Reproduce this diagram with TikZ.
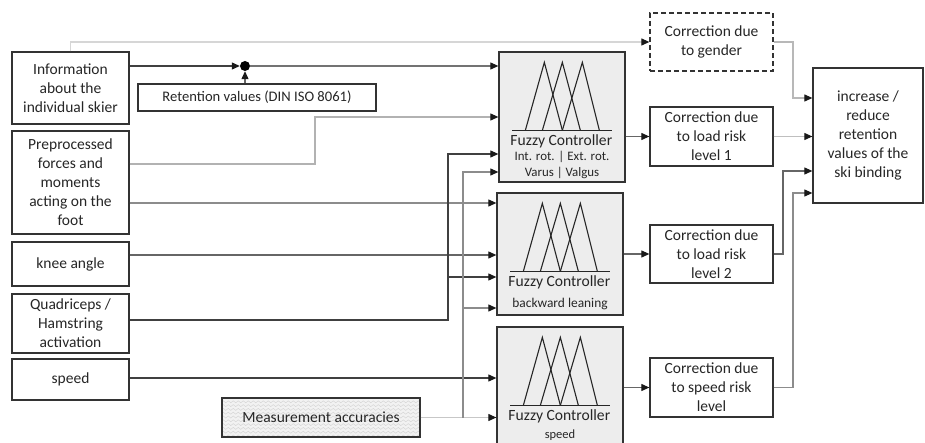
\documentclass[tikz,border=0pt]{standalone}
\usepackage{fontspec}
\setmainfont{Carlito}
\usetikzlibrary{arrows.meta,calc,decorations.pathmorphing}

% three overlapping membership triangles, a base line and the title
\newcommand\fuzzyset[2]{%
  \draw[tri] ($(#1.north west)+(27,79)$) -- ($(#1.north west)+(46,11)$) -- ($(#1.north west)+(64,79)$);
  \draw[tri] ($(#1.north west)+(44,79)$) -- ($(#1.north west)+(64,11)$) -- ($(#1.north west)+(82,79)$);
  \draw[tri] ($(#1.north west)+(64,79)$) -- ($(#1.north west)+(84,11)$) -- ($(#1.north west)+(101,79)$);
  \draw[tri] ($(#1.north west)+(14,79)$) -- ($(#1.north west)+(114,79)$);
  \node[fctitle] (#2) at ($(#1.north west)+(63,89.5)$) {Fuzzy Controller};
}

\begin{document}
\begin{tikzpicture}[x=1pt, y=-1pt,
  every node/.style={text=black!85},
  box/.style={draw=black!80, line width=1.3pt, fill=white, align=center,
    inner sep=0pt, font=\fontsize{15.5}{19}\selectfont},
  fcbox/.style={draw=black!80, line width=1.3pt, fill=black!7, inner sep=0pt,
    minimum width=126pt},
  tri/.style={draw=black!85, line width=1.1pt},
  fctitle/.style={inner sep=0pt, font=\fontsize{15.6}{17}\selectfont},
  fcsub/.style={inner sep=0pt, align=center},
  wire/.style={line width=1.1pt, -{Triangle[length=8pt,width=7pt,color=black!90]}},
]
\useasboundingbox (0,0) rectangle (925,443);

% ---- inputs on the left
\node[box, minimum width=117pt, minimum height=72pt] (info) at (70.5,88)
  {Information\\about the\\individual skier};
\node[box, minimum width=117pt, minimum height=103pt] (pre) at (70.5,182.5)
  {Preprocessed\\forces and\\moments\\acting on the\\foot};
\node[box, minimum width=117pt, minimum height=44pt] (knee) at (70.5,264) {knee angle};
\node[box, minimum width=117pt, minimum height=59pt] (quad) at (70.5,323.5)
  {Quadriceps /\\Hamstring\\activation};
\node[box, minimum width=117pt, minimum height=41pt] (speedin) at (70.5,379.5) {speed};

\node[box, minimum width=238pt, minimum height=27pt, font=\fontsize{14.6}{17}\selectfont]
  (ret) at (257,97.5) {Retention values (DIN ISO 8061)};

\node[box, minimum width=198pt, minimum height=39pt, fill=black!5,
  path picture={
    \foreach \k in {1,...,10}
      \draw[black!18, line width=0.4pt, decorate,
            decoration={zigzag, segment length=5pt, amplitude=1pt}]
        ($(path picture bounding box.north west)+(0,\k*3.8)$) --
        ($(path picture bounding box.north east)+(0,\k*3.8)$);
  }] (meas) at (321,417.5) {Measurement accuracies};

\node[circle, fill=black, inner sep=0pt, minimum size=10pt] (sum) at (245,66) {};

% ---- fuzzy controllers
\node[fcbox, minimum height=130pt] (fc1) at (562,117) {};
\node[fcbox, minimum height=122pt] (fc2) at (560,254) {};
\node[fcbox, minimum height=124pt] (fc3) at (560,389) {};
\fuzzyset{fc1}{fc1t}
\fuzzyset{fc2}{fc2t}
\fuzzyset{fc3}{fc3t}
\node[fcsub, font=\fontsize{12.9}{16}\selectfont] (fc1s) at (562,165)
  {Int. rot. | Ext. rot.\\Varus | Valgus};
\node[fcsub, font=\fontsize{13.4}{15}\selectfont] (fc2s) at (560,304) {backward leaning};
\node[fcsub, font=\fontsize{12.5}{14}\selectfont] (fc3s) at (560,435) {speed};

% ---- corrections and result
\node[box, minimum width=123pt, minimum height=58pt, dash pattern=on 5pt off 3pt]
  (gender) at (711.5,42) {Correction due\\to gender};
\node[box, minimum width=123pt, minimum height=59pt] (load1) at (711.5,136.5)
  {Correction due\\to load risk\\level 1};
\node[box, minimum width=123pt, minimum height=58pt] (load2) at (711.5,254)
  {Correction due\\to load risk\\level 2};
\node[box, minimum width=123pt, minimum height=59pt] (speedc) at (711.5,387.5)
  {Correction due\\to speed risk\\level};
\node[box, minimum width=110pt, minimum height=135pt] (out) at (868,135.5)
  {increase /\\reduce\\retention\\values of the\\ski binding};

% ---- connectors
\draw[wire, black!16] (info.north) |- (gender.west);
\draw[wire, black!75] (info.east |- sum) -- (sum);
\draw[wire, black!60] (ret.north -| sum) -- (sum);
\draw[wire, black!55] (sum) -- (fc1.west |- sum);

\draw[wire, black!30] (pre.east |- 0,164) -| (315,117) -- (fc1.west |- 0,117);
\draw[wire, black!45] (pre.east |- 0,203) -- (fc2.west |- 0,203);
\draw[wire, black!60] (knee.east |- 0,255) -- (fc2.west |- 0,255);

\draw[wire, black!75] (quad.east |- 0,320) -| (448,154) -- (fc1.west |- 0,154);
\draw[wire, black!75] (448,277) -- (fc2.west |- 0,277);

\draw[wire, black!75] (speedin.east |- 0,378) -- (fc3.west |- 0,378);

\draw[wire, black!22] (meas.east) -- (fc3.west |- meas.east);
\draw[wire, black!45] (463,417.5) -- (463,172) -- (fc1.west |- 0,172);
\draw[wire, black!45] (463,308) -- (fc2.west |- 0,308);

\draw[wire, black!60] (fc1.east |- load1.west) -- (load1.west);
\draw[wire, black!60] (fc2.east |- load2.west) -- (load2.west);
\draw[wire, black!60] (fc3.east |- speedc.west) -- (speedc.west);

\draw[wire, black!28] (gender.east) -| (793,98) -- (out.west |- 0,98);
\draw[wire, black!25] (load1.east) -- (out.west |- load1.east);
\draw[wire, black!60] (load2.east) -| (783,171) -- (out.west |- 0,171);
\draw[wire, black!45] (speedc.east) -| (793,193) -- (out.west |- 0,193);
\end{tikzpicture}
\end{document}
